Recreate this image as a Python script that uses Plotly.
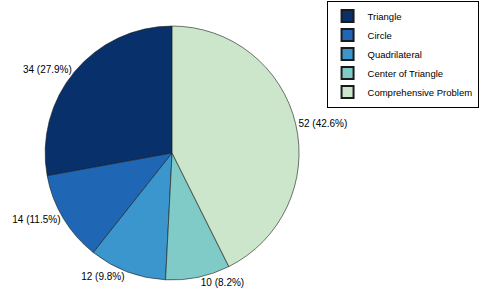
import plotly.graph_objects as go

categories = ["Triangle", "Circle", "Quadrilateral", "Center of Triangle", "Comprehensive Problem"]
values = [34, 14, 12, 10, 52]
colors = ["#08306b", "#1f66b4", "#3a96cc", "#80cbc8", "#cce6cc"]

# first slice starts at 12 o'clock and runs counterclockwise (MATLAB-style)
start_rotation = -360.0 * values[0] / sum(values)

fig = go.Figure(go.Pie(
    labels=categories,
    values=values,
    sort=False,
    direction="counterclockwise",
    rotation=start_rotation,
    marker=dict(colors=colors, line=dict(color="#1a1a1a", width=0.6)),
    textposition="outside",
    texttemplate="%{value} (%{percent:.1%})",
    textfont=dict(family="Liberation Sans, Arial, sans-serif", size=10, color="black"),
    domain=dict(x=[0.094, 0.623], y=[0.085, 0.915]),
    hoverinfo="label+value+percent",
))

fig.update_layout(
    width=480, height=306,
    margin=dict(l=0, r=0, t=0, b=0, autoexpand=False),
    paper_bgcolor="white",
    font=dict(family="Liberation Sans, Arial, sans-serif", size=10, color="black"),
    legend=dict(
        x=0.997, y=0.998, xanchor="right", yanchor="top",
        bordercolor="black", borderwidth=1,
        font=dict(size=9.5),
        tracegroupgap=0, itemsizing="constant",
    ),
)

fig.write_html("out.html", config={"displayModeBar": False},
               post_script="document.body.style.margin='0';")
